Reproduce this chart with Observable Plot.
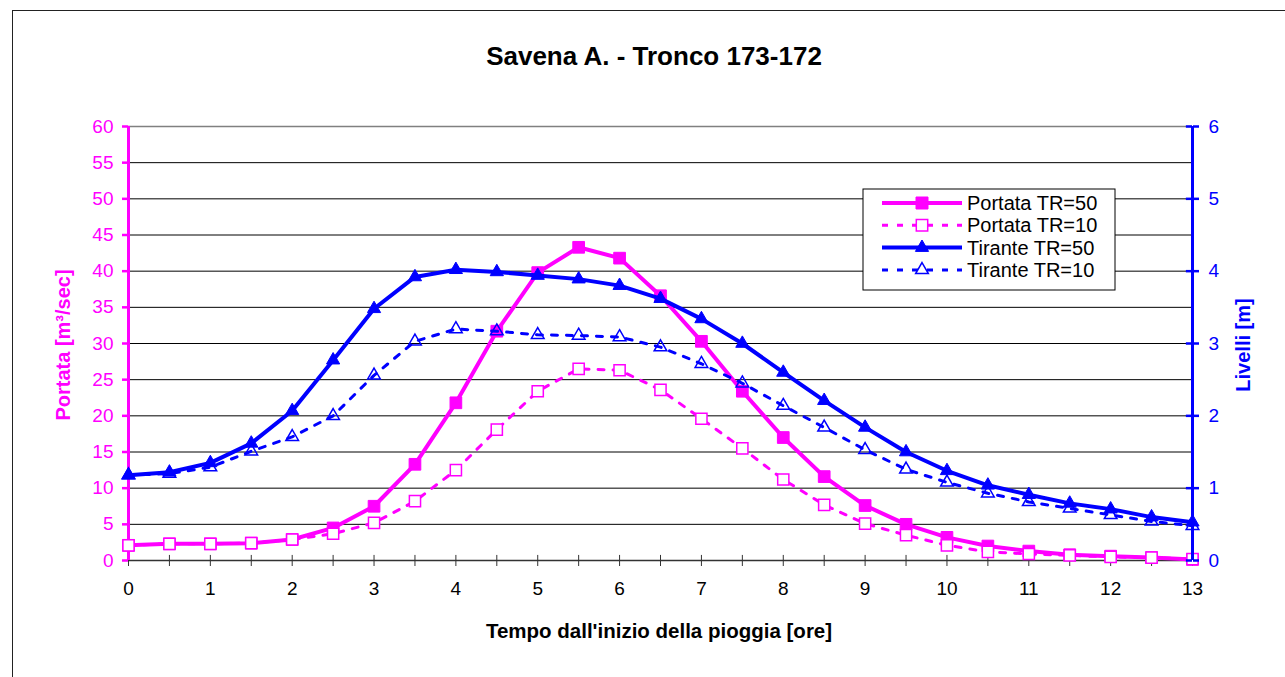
<!DOCTYPE html>
<html>
<head>
<meta charset="utf-8">
<script src="https://cdn.jsdelivr.net/npm/d3@7"></script>
<script src="https://cdn.jsdelivr.net/npm/@observablehq/plot@0.6"></script>
<style>
  html, body { margin: 0; padding: 0; background: #fff; }
  #wrap { position: relative; width: 1285px; height: 677px; overflow: hidden; background: #fff;
          font-family: "Liberation Sans", Arial, sans-serif; }
  #frame { position: absolute; left: 12px; top: 10px; width: 1400px; height: 800px;
           border-left: 1.3px solid #222; border-top: 1.3px solid #222; }
  #chart { position: absolute; left: 0; top: 0; }
  #overlay { position: absolute; left: 0; top: 0; pointer-events: none; }
</style>
</head>
<body>
<div id="wrap">
  <div id="frame"></div>
  <div id="chart"></div>
  <svg id="overlay" width="1285" height="677"></svg>
</div>
<script>
// ---- data ----
const title = "Savena A. - Tronco 173-172";
const xTitle = "Tempo dall'inizio della pioggia [ore]";
const yLeftTitle = "Portata [m³/sec]";
const yRightTitle = "Livelli [m]";

const hours = [0, 0.5, 1, 1.5, 2, 2.5, 3, 3.5, 4, 4.5, 5, 5.5, 6, 6.5, 7, 7.5, 8, 8.5, 9, 9.5, 10, 10.5, 11, 11.5, 12, 12.5, 13];
const portata50 = [2.1, 2.3, 2.3, 2.4, 2.9, 4.5, 7.5, 13.3, 21.8, 31.7, 39.8, 43.3, 41.8, 36.6, 30.3, 23.4, 17.0, 11.6, 7.6, 5.0, 3.2, 2.0, 1.3, 0.8, 0.6, 0.4, 0.15];
const portata10 = [2.1, 2.3, 2.3, 2.4, 2.9, 3.7, 5.2, 8.2, 12.5, 18.1, 23.4, 26.5, 26.3, 23.6, 19.6, 15.5, 11.2, 7.7, 5.1, 3.5, 2.1, 1.2, 0.9, 0.7, 0.5, 0.4, 0.2];
const tirante50 = [1.18, 1.22, 1.35, 1.62, 2.07, 2.77, 3.48, 3.92, 4.02, 3.99, 3.94, 3.89, 3.80, 3.62, 3.34, 3.00, 2.60, 2.21, 1.84, 1.50, 1.24, 1.04, 0.91, 0.79, 0.71, 0.60, 0.53];
const tirante10 = [1.18, 1.20, 1.29, 1.51, 1.71, 2.00, 2.56, 3.03, 3.20, 3.17, 3.12, 3.11, 3.09, 2.95, 2.72, 2.45, 2.14, 1.84, 1.53, 1.26, 1.08, 0.93, 0.81, 0.72, 0.63, 0.54, 0.48];

const xLabelTicks = [0, 1, 2, 3, 4, 5, 6, 7, 8, 9, 10, 11, 12, 13];
const leftTicks = [0, 5, 10, 15, 20, 25, 30, 35, 40, 45, 50, 55, 60];
const rightTicks = [0, 1, 2, 3, 4, 5, 6];
const seriesNames = ["Portata TR=50", "Portata TR=10", "Tirante TR=50", "Tirante TR=10"];

// ---- styles ----
const MAG = "#FF00FF";
const BLUE = "#0000FF";
const leftMax = 60, rightMax = 6;
const k = leftMax / rightMax;

const rows = hours.map((t, i) => ({t, p50: portata50[i], p10: portata10[i], t50: tirante50[i] * k, t10: tirante10[i] * k}));

const chart = Plot.plot({
  width: 1285,
  height: 677,
  marginLeft: 128,
  marginRight: 93,
  marginTop: 126,
  marginBottom: 117,
  style: {fontFamily: "'Liberation Sans', Arial, sans-serif", background: "transparent", overflow: "visible"},
  x: {domain: [0, 13]},
  y: {domain: [0, leftMax]},
  marks: [
    Plot.ruleY(leftTicks.filter(v => v > 0 && v < leftMax), {stroke: "#000", strokeWidth: 1}),
    Plot.ruleY([leftMax], {stroke: "#808080", strokeWidth: 1.5}),
    // x axis
    Plot.ruleY([0], {stroke: "#333", strokeWidth: 1.5}),
    Plot.axisX({ticks: hours, tickSize: 6, tickPadding: 15, tickFormat: d => xLabelTicks.includes(d) ? String(d) : "",
                fontSize: 19, stroke: "#333", fill: "#000", label: null}),
    Plot.ruleX(hours, {x: d => d, y1: 0, y2: 0.7, stroke: "#333", strokeWidth: 1}),
    // left axis
    Plot.axisY({anchor: "left", ticks: leftTicks, tickSize: 6, tickPadding: 9, fontSize: 19,
                stroke: MAG, fill: MAG, strokeWidth: 2.5, label: null}),
    Plot.ruleX([0], {stroke: MAG, strokeWidth: 3}),
    // series
    Plot.line(rows, {x: "t", y: "p50", stroke: MAG, strokeWidth: 4}),
    Plot.dot(rows, {x: "t", y: "p50", symbol: "square", r: 6.6, fill: MAG, stroke: MAG, strokeWidth: 1}),
    Plot.line(rows, {x: "t", y: "p10", stroke: MAG, strokeWidth: 3, strokeDasharray: "6,9"}),
    Plot.dot(rows, {x: "t", y: "p10", symbol: "square", r: 6.3, fill: "#fff", stroke: MAG, strokeWidth: 1.5}),
    Plot.line(rows, {x: "t", y: "t50", stroke: BLUE, strokeWidth: 4}),
    Plot.dot(rows, {x: "t", y: "t50", symbol: "triangle", r: 4.9, fill: BLUE, stroke: BLUE, strokeWidth: 1}),
    Plot.line(rows, {x: "t", y: "t10", stroke: BLUE, strokeWidth: 3, strokeDasharray: "6,9"}),
    Plot.dot(rows, {x: "t", y: "t10", symbol: "triangle", r: 4.7, fill: "none", stroke: BLUE, strokeWidth: 1.5}),
    // right axis
    Plot.ruleX([13], {stroke: BLUE, strokeWidth: 3}),
    Plot.axisY({anchor: "right", ticks: rightTicks.map(v => v * k), tickFormat: d => String(d / k), tickSize: 6,
                tickPadding: 10, fontSize: 19, stroke: BLUE, fill: BLUE, strokeWidth: 2.5, label: null}),
    Plot.ruleY(rightTicks.map(v => v * k), {y: d => d, x1: 13 - 0.075, x2: 13, stroke: BLUE, strokeWidth: 2.5})
  ]
});
document.getElementById("chart").appendChild(chart);

// ---- overlay: titles and legend ----
const ov = d3.select("#overlay").style("font-family", "'Liberation Sans', Arial, sans-serif");
ov.append("text").attr("x", 654).attr("y", 65).attr("text-anchor", "middle")
  .attr("font-size", 26).attr("font-weight", "bold").attr("fill", "#000").text(title);
ov.append("text").attr("x", 659).attr("y", 638).attr("text-anchor", "middle")
  .attr("font-size", 20.5).attr("font-weight", "bold").attr("fill", "#000").text(xTitle);
ov.append("text").attr("transform", "translate(70,345) rotate(-90)").attr("text-anchor", "middle")
  .attr("font-size", 20).attr("font-weight", "bold").attr("fill", MAG).text(yLeftTitle);
ov.append("text").attr("transform", "translate(1250,345) rotate(-90)").attr("text-anchor", "middle")
  .attr("font-size", 20).attr("font-weight", "bold").attr("fill", BLUE).text(yRightTitle);

const lg = ov.append("g");
lg.append("rect").attr("x", 863).attr("y", 189).attr("width", 252).attr("height", 101)
  .attr("fill", "#fff").attr("stroke", "#000").attr("stroke-width", 1);
const legendStyles = [
  {stroke: MAG, w: 4, dash: null, sym: d3.symbolSquare, size: 144, fill: MAG, sw: 1},
  {stroke: MAG, w: 3, dash: "6,9", sym: d3.symbolSquare, size: 130, fill: "#fff", sw: 1.5},
  {stroke: BLUE, w: 4, dash: null, sym: d3.symbolTriangle, size: 75, fill: BLUE, sw: 1},
  {stroke: BLUE, w: 3, dash: "6,9", sym: d3.symbolTriangle, size: 70, fill: "#fff", sw: 1.5}
];
seriesNames.forEach((name, i) => {
  const s = legendStyles[i];
  const cy = 203 + i * 22.3;
  lg.append("line").attr("x1", 882).attr("x2", 962).attr("y1", cy).attr("y2", cy)
    .attr("stroke", s.stroke).attr("stroke-width", s.w).attr("stroke-dasharray", s.dash);
  lg.append("path").attr("d", d3.symbol(s.sym, s.size)()).attr("transform", `translate(922,${cy})`)
    .attr("fill", s.fill).attr("stroke", s.stroke).attr("stroke-width", s.sw);
  lg.append("text").attr("x", 967).attr("y", cy + 7).attr("font-size", 20).attr("fill", "#000").text(name);
});
</script>
</body>
</html>
